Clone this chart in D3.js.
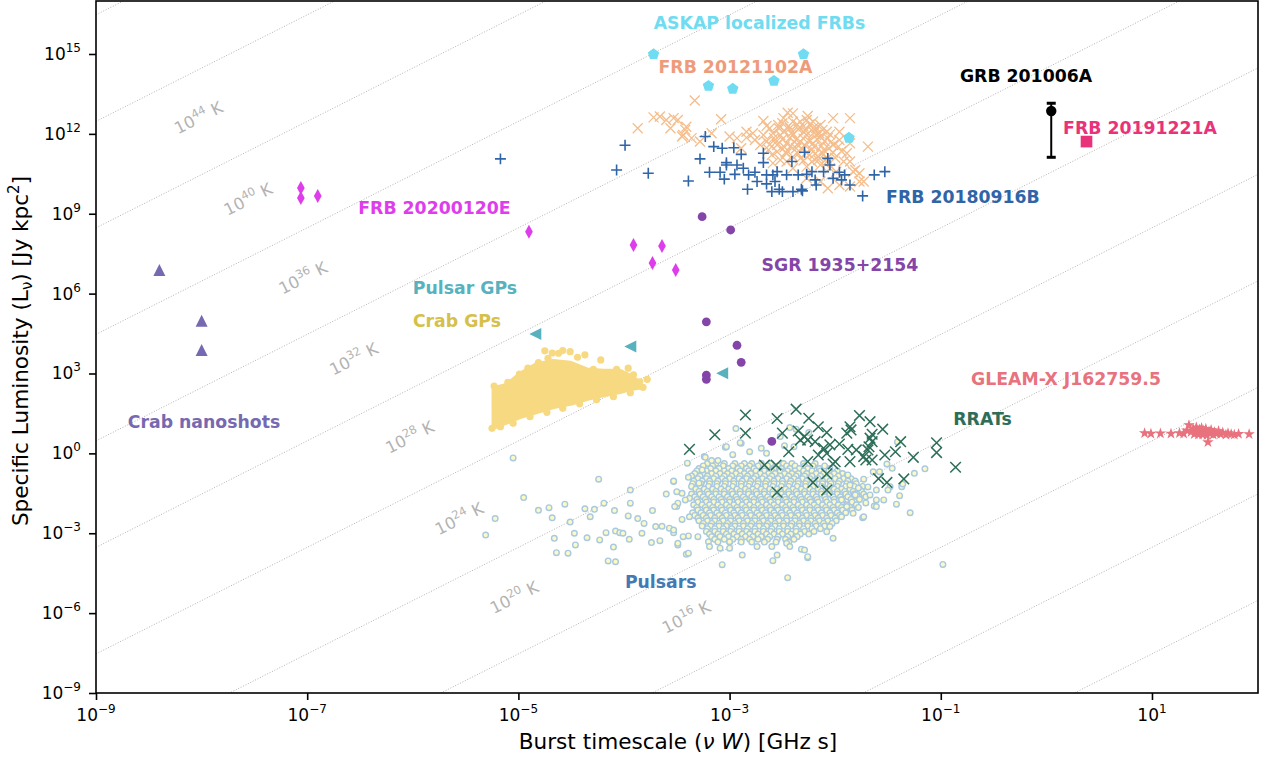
<!DOCTYPE html>
<html>
<head>
<meta charset="utf-8">
<script src="https://cdn.jsdelivr.net/npm/d3@7"></script>
<style>
  body { margin: 0; background: #fff; }
  text { font-family: "DejaVu Sans", sans-serif; }
</style>
</head>
<body>
<svg id="chart" width="1261" height="759"></svg>
<script>
// All source values are log10(burst timescale nu*W [GHz s]), log10(L_nu [Jy kpc^2]).

const xTickExps = [-9, -7, -5, -3, -1, 1];
const yTickExps = [15, 12, 9, 6, 3, 0, -3, -6, -9];
const tempLineExps = [52, 48, 44, 40, 36, 32, 28, 24, 20, 16, 12, 8, 4];
// brightness-temperature labels: [log10 T, log10 nu*W where the label sits]
const tempLabels = [[44, -8.03], [40, -7.56], [36, -7.04], [32, -6.56], [28, -6.03], [24, -5.56], [20, -5.04], [16, -3.41]];

// Pulsars: dense core rows [log L, [log nuW ...]] plus scattered outliers
const pulsarRows = [
  [-0.38, [-3.21,-3.13,-3.05,-2.95,-2.86,-2.79,-2.70,-2.61,-2.49,-2.41,-2.30,-2.19]],
  [-0.47, [-3.25,-3.16,-3.06,-2.97,-2.89,-2.81,-2.73,-2.64,-2.54,-2.46,-2.38,-2.29,-2.21,-2.10]],
  [-0.57, [-3.29,-3.18,-3.10,-3.01,-2.92,-2.84,-2.77,-2.67,-2.58,-2.51,-2.43,-2.34,-2.26,-2.15,-2.05]],
  [-0.66, [-3.31,-3.22,-3.13,-3.05,-2.98,-2.90,-2.82,-2.75,-2.67,-2.60,-2.52,-2.45,-2.38,-2.30,-2.22,-2.14,-2.06,-1.98]],
  [-0.76, [-3.33,-3.25,-3.17,-3.09,-3.02,-2.94,-2.86,-2.80,-2.71,-2.63,-2.57,-2.48,-2.41,-2.35,-2.27,-2.18,-2.11,-2.01,-1.93]],
  [-0.85, [-3.36,-3.28,-3.21,-3.13,-3.05,-2.98,-2.90,-2.83,-2.75,-2.67,-2.60,-2.52,-2.44,-2.37,-2.29,-2.22,-2.14,-2.05,-1.97,-1.89]],
  [-0.95, [-3.30,-3.22,-3.15,-3.07,-3.00,-2.91,-2.84,-2.77,-2.69,-2.62,-2.54,-2.46,-2.39,-2.31,-2.24,-2.16,-2.08,-2.00,-1.92,-1.85]],
  [-1.04, [-3.34,-3.26,-3.19,-3.11,-3.04,-2.96,-2.88,-2.80,-2.73,-2.65,-2.58,-2.50,-2.42,-2.35,-2.27,-2.20,-2.12,-2.05,-1.96,-1.88,-1.81]],
  [-1.14, [-3.35,-3.27,-3.19,-3.12,-3.04,-2.96,-2.89,-2.81,-2.73,-2.66,-2.58,-2.50,-2.43,-2.35,-2.28,-2.20,-2.12,-2.04,-1.97,-1.89,-1.80]],
  [-1.24, [-3.36,-3.28,-3.20,-3.12,-3.05,-2.97,-2.89,-2.82,-2.74,-2.66,-2.59,-2.51,-2.44,-2.36,-2.28,-2.21,-2.13,-2.05,-1.98,-1.90,-1.82,-1.74]],
  [-1.34, [-3.32,-3.24,-3.16,-3.08,-3.01,-2.93,-2.85,-2.78,-2.70,-2.62,-2.55,-2.47,-2.40,-2.32,-2.24,-2.16,-2.09,-2.01,-1.94,-1.86,-1.77]],
  [-1.43, [-3.29,-3.21,-3.13,-3.05,-2.98,-2.90,-2.82,-2.75,-2.67,-2.59,-2.52,-2.44,-2.37,-2.29,-2.21,-2.13,-2.06,-1.98,-1.91,-1.83,-1.75]],
  [-1.53, [-3.36,-3.28,-3.20,-3.13,-3.05,-2.97,-2.90,-2.82,-2.74,-2.67,-2.59,-2.51,-2.44,-2.36,-2.29,-2.21,-2.13,-2.05,-1.98,-1.90,-1.82,-1.73]],
  [-1.63, [-3.33,-3.25,-3.17,-3.10,-3.02,-2.94,-2.87,-2.79,-2.71,-2.64,-2.56,-2.48,-2.41,-2.33,-2.26,-2.18,-2.10,-2.02,-1.95,-1.88,-1.79,-1.71]],
  [-1.73, [-3.31,-3.23,-3.15,-3.08,-3.00,-2.93,-2.85,-2.77,-2.70,-2.62,-2.54,-2.47,-2.39,-2.32,-2.24,-2.17,-2.09,-2.01,-1.94,-1.85,-1.77]],
  [-1.83, [-3.30,-3.22,-3.15,-3.07,-3.00,-2.92,-2.84,-2.77,-2.69,-2.61,-2.54,-2.46,-2.39,-2.31,-2.23,-2.16,-2.08,-2.01,-1.93,-1.84]],
  [-1.93, [-3.34,-3.26,-3.19,-3.11,-3.03,-2.96,-2.88,-2.81,-2.73,-2.65,-2.58,-2.50,-2.43,-2.35,-2.27,-2.20,-2.12,-2.05,-1.97,-1.89,-1.80]],
  [-2.03, [-3.31,-3.23,-3.16,-3.08,-3.00,-2.93,-2.85,-2.77,-2.70,-2.62,-2.55,-2.47,-2.40,-2.32,-2.24,-2.17,-2.09,-2.02,-1.94,-1.86,-1.78]],
  [-2.13, [-3.30,-3.22,-3.15,-3.07,-2.99,-2.92,-2.84,-2.77,-2.69,-2.61,-2.54,-2.46,-2.39,-2.31,-2.24,-2.16,-2.08,-2.01,-1.93,-1.84]],
  [-2.23, [-3.35,-3.27,-3.19,-3.12,-3.04,-2.96,-2.89,-2.81,-2.74,-2.66,-2.58,-2.51,-2.43,-2.36,-2.28,-2.20,-2.13,-2.05,-1.98,-1.90]],
  [-2.33, [-3.33,-3.25,-3.18,-3.10,-3.03,-2.95,-2.88,-2.80,-2.72,-2.65,-2.57,-2.50,-2.42,-2.35,-2.27,-2.19,-2.12,-2.04,-1.96]],
  [-2.43, [-3.30,-3.22,-3.14,-3.07,-2.99,-2.92,-2.84,-2.76,-2.69,-2.61,-2.54,-2.46,-2.38,-2.31,-2.23,-2.16,-2.08,-2.00]],
  [-2.53, [-3.29,-3.21,-3.14,-3.06,-2.99,-2.91,-2.83,-2.76,-2.68,-2.61,-2.53,-2.46,-2.38,-2.30,-2.23,-2.15,-2.07,-1.99]],
  [-2.63, [-3.25,-3.17,-3.10,-3.02,-2.95,-2.87,-2.79,-2.72,-2.64,-2.57,-2.49,-2.41,-2.34,-2.26,-2.19,-2.11,-2.03]],
  [-2.73, [-3.26,-3.18,-3.10,-3.03,-2.95,-2.87,-2.80,-2.72,-2.65,-2.57,-2.49,-2.42,-2.34,-2.26,-2.18,-2.10]],
  [-2.83, [-3.21,-3.14,-3.06,-2.98,-2.91,-2.83,-2.76,-2.68,-2.60,-2.53,-2.45,-2.37,-2.30,-2.22,-2.14]],
  [-2.93, [-3.22,-3.14,-3.06,-2.99,-2.91,-2.84,-2.76,-2.68,-2.61,-2.53,-2.45,-2.37,-2.29,-2.20]],
  [-3.03, [-3.19,-3.11,-3.03,-2.96,-2.88,-2.81,-2.73,-2.65,-2.58,-2.50,-2.42,-2.33,-2.25]],
  [-3.13, [-3.17,-3.09,-3.01,-2.93,-2.85,-2.78,-2.70,-2.62,-2.54,-2.45,-2.36]],
  [-3.23, [-3.14,-3.05,-2.97,-2.89,-2.81,-2.73,-2.64,-2.55,-2.47,-2.39]],
  [-3.33, [-3.11,-3.00,-2.89,-2.79,-2.67,-2.56,-2.44]]
];
const pulsarsSparse = [
  [-5.31,-3.07],[-5.22,-2.45],[-5.05,-0.17],[-4.95,-1.66],[-4.81,-2.14],[-4.71,-2.04],[-4.68,-2.42],[-4.64,-3.73],
  [-4.66,-3.19],[-4.56,-1.91],[-4.53,-3.75],[-4.51,-2.58],[-4.47,-3.00],[-4.46,-3.44],[-4.37,-2.08],[-4.35,-3.17],
  [-4.32,-2.38],[-4.28,-2.10],[-4.24,-0.97],[-4.23,-3.25],[-4.19,-1.87],[-4.17,-2.98],[-4.15,-4.04],[-4.10,-3.52],
  [-4.08,-4.07],[-4.09,-2.15],[-4.08,-2.92],[-4.04,-2.98],[-4.01,-3.00],[-3.96,-2.35],[-3.94,-1.38],[-3.94,-1.87],
  [-3.95,-3.23],[-3.87,-2.45],[-3.83,-3.00],[-3.81,-2.63],[-3.74,-3.35],[-3.73,-2.15],[-3.70,-2.75],[-3.66,-3.28],
  [-3.64,-2.74],[-3.60,-1.53],[-3.57,-2.81],[-3.53,-1.06],[-3.53,-2.98],[-3.50,-2.00],[-3.49,-3.44],[-3.45,-2.48],
  [-3.45,-1.50],[-3.41,-3.79],[-3.40,-0.37],[-3.39,-3.10],[-3.38,-1.69],[-3.29,-1.12],[-3.26,-0.62],[-3.24,-0.12],
  [-3.20,-3.32],[-3.17,-0.27],[-3.11,-0.27],[-3.07,-4.18],[-3.04,0.23],[-3.00,-3.56],[-2.97,-0.05],[-2.94,0.93],
  [-2.89,0.38],[-2.88,-3.82],[-2.59,-4.03],[-2.45,-4.67],[-2.60,-3.50],[-2.46,-3.38],[-2.32,-3.60],[-2.26,-3.92],
  [-2.02,-3.19],[-1.74,-2.42],[-1.63,-1.98],[-1.42,-1.91],[-1.29,-2.23],[-1.54,-1.75],[-1.41,0.43],[-1.25,-0.75],
  [-1.15,-0.58],[-0.98,-4.17],[-1.73,-0.97],[-1.61,-1.38],[-1.39,-1.59],[-1.48,-1.25],[-1.58,-0.69],[-1.51,-0.40],
  [-1.73,-2.38],[-1.61,-2.00],[-1.37,-1.25],[-2.90,0.40],[-2.81,0.06],[-2.70,0.19],[-2.65,0.00],[-2.48,0.29],
  [-2.39,0.25],[-2.43,0.97],[-2.37,0.91],[-2.25,0.78],[-2.52,0.63],[-3.03,0.25],[-3.23,-0.15],[-3.53,-1.04],
  [-3.50,-1.44],[-3.39,-0.90],[-3.49,-1.87],[-3.52,-2.00],[-3.42,-1.75],[-3.38,-2.38],[-3.53,-2.88],[-3.44,-3.13],
  [-3.39,-3.75],[-3.49,-3.38],[-3.30,-3.13],[-3.19,-3.50],[-3.09,-3.56],[-3.00,-3.32],[-2.74,-3.50],[-2.55,-3.82],
  [-2.43,-3.50],[-2.29,-3.63],[-2.26,-3.88],[-1.61,-1.75],[-1.67,-1.56],[-1.50,-1.38],[-1.36,-1.15],[-1.46,-0.56],
  [-1.64,-0.69],[-1.94,-1.75],[-1.89,-2.00],[-1.94,-2.38],[-1.83,-2.25],[-2.05,-2.75],[-2.08,-2.94],[-1.81,-1.56],
  [-1.86,-1.19],[-1.88,-0.81],[-1.78,-1.30],[-1.71,-1.86],[-1.69,-1.26]
];

// Crab giant pulses: envelope of the dense cloud [log nuW, low log L, high log L] and its edge pulses
const crabGPEnvelope = [
  [-5.22,1.05,2.40],[-5.10,1.24,2.52],[-4.99,1.42,2.90],[-4.83,1.61,3.28],[-4.67,1.80,3.41],[-4.51,1.92,3.34],
  [-4.35,2.11,3.09],[-4.20,2.24,3.04],[-4.04,2.36,3.04],[-3.94,2.48,2.85],[-3.86,2.52,2.62]
];
const crabGPEdge = [
  [-4.75,3.85],[-4.62,3.76],[-4.58,3.86],[-4.51,3.82],[-4.44,3.61],[-4.22,3.51],[-3.78,2.78],[-5.23,2.53],
  [-5.10,2.67],[-4.99,2.98],[-4.91,3.20],[-4.81,3.41],[-4.72,3.57],[-3.96,3.20],[-3.91,2.95],[-3.85,2.69],
  [-4.07,3.16],[-4.29,3.16],[-5.25,0.94],[-5.17,1.00],[-5.05,1.13],[-4.89,1.38],[-4.73,1.54],[-4.58,1.69],
  [-4.42,1.86],[-4.26,2.01],[-4.10,2.13],[-3.94,2.28],[-3.82,2.48],[-4.68,3.77],[-4.37,3.70]
];

const rrats = [
  [-3.38,0.15],[-3.14,0.70],[-2.85,1.44],[-2.85,0.76],[-2.55,1.31],[-2.37,1.66],[-2.25,1.32],[-2.16,1.00],
  [-2.50,0.76],[-2.35,0.84],[-2.29,0.63],[-2.08,0.78],[-2.19,0.44],[-2.11,0.19],[-2.26,0.50],[-2.08,0.00],
  [-1.77,1.42],[-1.67,1.19],[-1.55,0.91],[-1.65,0.72],[-1.86,1.00],[-1.89,0.76],[-1.65,0.44],[-1.69,0.13],
  [-1.88,0.15],[-1.86,-0.31],[-1.65,-0.25],[-1.53,-0.06],[-1.43,0.06],[-1.38,0.44],[-1.26,-0.15],[-1.04,0.40],
  [-1.04,0.03],[-0.86,-0.52],[-1.35,-0.96],[-1.51,-1.09],[-1.59,-0.95],[-2.00,-0.31],[-2.02,-0.40],[-2.08,-0.77],
  [-2.08,-1.38],[-2.21,-1.09],[-2.26,-0.31],[-2.44,0.06],[-2.56,-0.44],[-2.67,-0.44],[-2.55,-1.46],[-1.80,0.13],
  [-1.73,-0.12],[-1.85,0.88],[-1.67,0.57],[-1.68,0.25],[-1.71,-0.25],[-1.96,0.35],[-2.16,-0.06],[-2.33,0.50],
  [-2.05,0.32]
];

const pulsarGPs = [[-4.84,4.48],[-3.94,4.01],[-3.07,3.01]];
const crabNanoshots = [[-8.40,6.89],[-8.00,4.98],[-8.00,3.88]];
const sgr1935 = [[-3.26,8.89],[-2.99,8.39],[-3.22,4.94],[-2.93,4.06],[-2.89,3.42],[-3.22,2.94],[-3.22,2.78],[-2.60,0.45]];
const frb20200120E = [[-7.06,9.97],[-7.06,9.59],[-6.90,9.67],[-4.90,8.32],[-3.91,7.83],[-3.64,7.79],[-3.73,7.15],[-3.51,6.89]];

const frb20121102A = [
  [-3.87,12.21],[-3.72,12.62],[-3.66,12.65],[-3.60,12.52],[-3.53,12.59],[-3.49,12.52],[-3.41,12.27],[-3.44,11.96],
  [-3.33,13.25],[-3.08,12.55],[-3.00,11.90],[-3.36,11.84],[-3.56,12.21],[-3.42,12.15],[-3.45,11.90],[-3.28,11.71],
  [-3.17,12.02],[-2.84,11.86],[-2.76,11.77],[-2.89,11.46],[-2.71,11.58],[-2.65,11.71],[-2.59,12.02],[-2.49,12.59],
  [-2.40,12.77],[-2.33,12.46],[-2.27,12.52],[-2.21,12.46],[-2.14,12.33],[-2.02,12.59],[-1.96,12.08],[-1.86,11.65],
  [-1.69,11.52],[-1.97,11.52],[-1.89,11.27],[-1.86,10.96],[-1.77,10.21],[-1.73,10.21],[-2.07,9.96],[-2.14,10.21],
  [-1.86,10.02],[-2.27,10.33],[-2.40,10.71],[-2.52,11.02],[-2.59,10.90],[-2.46,11.27],[-2.55,11.58],[-2.68,11.96],
  [-2.84,12.08],[-2.93,11.84],[-2.78,12.02],[-2.02,11.58],[-1.96,11.77],[-2.08,12.08],[-2.21,12.21],[-2.30,12.08],
  [-2.43,12.21],[-2.52,11.96],[-2.46,11.65],[-2.33,11.71],[-2.21,11.65],[-2.11,11.40],[-2.24,11.21],[-2.33,11.08],
  [-2.14,10.83],[-2.27,10.77],[-2.05,10.71],[-1.99,10.58],[-1.83,10.58],[-1.92,10.96],[-1.81,10.64],[-1.96,10.08],
  [-1.77,10.52],[-2.37,11.46],[-2.55,11.33],[-2.63,11.40],[-2.60,11.21],[-2.40,11.96],[-2.27,11.96],[-2.14,11.90],
  [-2.40,12.46],[-2.54,12.33],[-2.62,12.21],[-2.07,11.84],[-2.18,11.96],[-2.32,11.46],[-2.22,11.40],[-2.16,11.14],
  [-2.08,11.08],[-2.46,10.96],[-2.40,11.14],[-1.86,12.59],[-2.65,12.30],[-2.45,12.79],[-2.26,12.67],[-2.68,12.48],
  [-2.50,12.40],[-2.44,12.30],[-2.36,12.35],[-2.30,12.28],[-2.24,12.36],[-2.18,12.22],[-2.12,12.15],[-2.48,12.10],
  [-2.41,12.05],[-2.35,12.18],[-2.28,12.12],[-2.20,12.05],[-2.15,12.02],[-2.05,11.98],[-2.50,11.80],[-2.43,11.85],
  [-2.37,11.78],[-2.30,11.82],[-2.25,11.75],[-2.17,11.80],[-2.10,11.72],[-2.04,11.70],[-2.56,11.70],[-2.48,11.50],
  [-2.42,11.55],[-2.36,11.60],[-2.28,11.55],[-2.20,11.52],[-2.13,11.55],[-2.06,11.45],[-2.47,11.30],[-2.35,11.25],
  [-2.27,11.30],[-2.19,11.25],[-2.12,11.28],[-2.02,11.30],[-2.30,11.00],[-2.22,10.95],[-2.16,11.02],[-2.08,10.95],
  [-2.00,11.10],[-1.94,11.35],[-2.53,12.20],[-2.58,11.85],[-2.62,11.60]
];

const frb20180916B = [
  [-5.17,11.06],[-3.99,11.57],[-4.07,10.64],[-3.77,10.52],[-3.39,10.23],[-3.23,11.90],[-1.74,9.67],[-3.28,11.06],
  [-3.15,11.52],[-3.07,11.46],[-2.96,11.48],[-2.89,11.23],[-3.19,10.56],[-3.09,10.56],[-3.03,10.83],[-3.05,10.30],
  [-2.93,10.83],[-2.95,10.48],[-2.87,10.71],[-2.82,10.46],[-2.83,9.92],[-2.76,10.56],[-2.74,10.21],[-2.68,11.27],
  [-2.68,10.92],[-2.65,10.46],[-2.65,10.12],[-2.59,10.46],[-2.55,10.58],[-2.57,10.21],[-2.53,9.92],[-2.50,9.83],
  [-2.46,10.46],[-2.41,10.96],[-2.35,10.46],[-2.32,9.92],[-2.29,11.31],[-2.27,10.48],[-2.22,10.58],[-2.19,10.27],
  [-2.18,10.08],[-2.11,10.58],[-2.07,11.08],[-2.05,10.83],[-2.02,10.33],[-1.96,10.56],[-1.94,10.27],[-1.91,10.46],
  [-1.86,10.08],[-1.63,10.46],[-1.53,10.58],[-2.60,9.83],[-2.40,9.83],[-2.31,9.86],[-3.03,10.92]
];

const askapFRBs = [[-3.72,14.99],[-2.30,14.99],[-3.20,13.80],[-2.97,13.69],[-2.58,13.99],[-1.87,11.85]];

const gleamx = [
  [0.93,0.76],[0.99,0.74],[1.08,0.75],[1.18,0.74],[1.26,0.76],[1.30,0.74],[1.33,0.86],[1.35,1.06],[1.37,0.80],
  [1.39,0.92],[1.40,0.72],[1.42,0.98],[1.43,0.84],[1.44,0.70],[1.45,0.90],[1.46,0.78],[1.47,0.95],[1.48,0.70],
  [1.49,0.86],[1.50,0.76],[1.51,0.92],[1.52,0.68],[1.53,0.42],[1.54,0.82],[1.55,0.74],[1.56,0.88],[1.58,0.70],
  [1.59,0.80],[1.61,0.74],[1.63,0.84],[1.65,0.72],[1.67,0.78],[1.70,0.70],[1.72,0.76],[1.75,0.72],[1.78,0.70],
  [1.82,0.73],[1.92,0.72]
];

// GRB 201006A: [log nuW, log L, log L lower, log L upper]
const grb201006A = [[0.046, 12.86, 11.12, 13.15]];
const frb20191221A = [[0.38, 11.71]];

// Source name annotations: [text, log nuW (centre), log L (centre), colour]
const annotations = [
  ["ASKAP localized FRBs", -2.717, 16.165, "#6fdcf1"],
  ["FRB 20121102A", -2.944, 14.524, "#ee9b7b"],
  ["GRB 201006A", -0.193, 14.175, "#000000"],
  ["FRB 20191221A", 0.887, 12.233, "#e8337a"],
  ["FRB 20180916B", -0.790, 9.641, "#2f65a7"],
  ["FRB 20200120E", -5.795, 9.217, "#de3deb"],
  ["SGR 1935+2154", -1.955, 7.076, "#8445a8"],
  ["Pulsar GPs", -5.506, 6.212, "#57b2be"],
  ["Crab GPs", -5.582, 4.973, "#d6c04a"],
  ["Crab nanoshots", -7.977, 1.191, "#7669b1"],
  ["GLEAM-X J162759.5", 0.186, 2.794, "#e8727d"],
  ["RRATs", -0.605, 1.318, "#2c6e58"],
  ["Pulsars", -3.652, -4.819, "#4479b4"]
];

// ---------------------------------------------------------------------------
const TB_CONST = 17.53;      // log10 T_B = log10 L - 2 log10(nu W) + TB_CONST
const LABEL_LIFT = 2.2;      // decades above each T_B line where its label sits

const svg = d3.select("#chart");
const L = 96, R = 1258, T = 1, B = 693;

const x = d3.scaleLog().domain([1e-9, Math.pow(10, 2.004)]).range([L, R]);
const y = d3.scaleLog().domain([1e-9, Math.pow(10, 16.99)]).range([B, T]);
const px = d => x(Math.pow(10, d));
const py = d => y(Math.pow(10, d));

svg.append("rect").attr("width", 1261).attr("height", 759).attr("fill", "#fff");

svg.append("defs").append("clipPath").attr("id", "plotClip")
  .append("rect").attr("x", L).attr("y", T).attr("width", R - L).attr("height", B - T);

const plot = svg.append("g").attr("clip-path", "url(#plotClip)");

// brightness temperature lines
const lxMin = -9, lxMax = 2.004;
const tbLine = d3.line().x(d => px(d[0])).y(d => py(d[1]));
plot.append("g").selectAll("path").data(tempLineExps).join("path")
  .attr("d", t => tbLine([[lxMin, t - TB_CONST + 2 * lxMin], [lxMax, t - TB_CONST + 2 * lxMax]]))
  .attr("fill", "none").attr("stroke", "#b3b3b3").attr("stroke-width", 1)
  .attr("stroke-dasharray", "1,1.7");

const angle = Math.atan2(py(2) - py(0), px(1) - px(0)) * 180 / Math.PI;
const tl = plot.append("g").selectAll("text").data(tempLabels).join("text")
  .attr("transform", d => `translate(${px(d[1])},${py(d[0] + LABEL_LIFT - TB_CONST + 2 * d[1])}) rotate(${angle})`)
  .attr("text-anchor", "middle").attr("dy", "0.35em")
  .attr("font-size", 16.5).attr("fill", "#b3b3b3");
tl.append("tspan").text("10");
tl.append("tspan").attr("dy", -7).attr("font-size", 11.5).text(d => d[0]);
tl.append("tspan").attr("dy", 7).text(" K");

// marker shapes (size = half-extent squared)
const shapes = {
  plus: { draw(c, s) { const r = Math.sqrt(s); c.moveTo(-r, 0); c.lineTo(r, 0); c.moveTo(0, -r); c.lineTo(0, r); } },
  cross: { draw(c, s) { const r = Math.sqrt(s); c.moveTo(-r, -r); c.lineTo(r, r); c.moveTo(-r, r); c.lineTo(r, -r); } },
  pentagon: { draw(c, s) { const r = Math.sqrt(s);
    for (let i = 0; i < 5; i++) { const a = -Math.PI / 2 + i * 2 * Math.PI / 5;
      const vx = r * Math.cos(a), vy = r * Math.sin(a); if (i) c.lineTo(vx, vy); else c.moveTo(vx, vy); }
    c.closePath(); } },
  thinDiamond: { draw(c, s) { const r = Math.sqrt(s), w = r * 0.55;
    c.moveTo(0, -r); c.lineTo(w, 0); c.lineTo(0, r); c.lineTo(-w, 0); c.closePath(); } },
  triUp: { draw(c, s) { const r = Math.sqrt(s); c.moveTo(0, -r); c.lineTo(r, r); c.lineTo(-r, r); c.closePath(); } },
  triLeft: { draw(c, s) { const r = Math.sqrt(s); c.moveTo(-r, 0); c.lineTo(r, -r); c.lineTo(r, r); c.closePath(); } },
  square: { draw(c, s) { const r = Math.sqrt(s); c.rect(-r, -r, 2 * r, 2 * r); } }
};

function markers(data, type, size, style) {
  const path = d3.symbol(type, size)();
  plot.append("g").selectAll("path").data(data).join("path")
    .attr("transform", d => `translate(${px(d[0])},${py(d[1])})`)
    .attr("d", path)
    .attr("fill", style.fill || "none")
    .attr("stroke", style.stroke || "none")
    .attr("stroke-width", style.sw || 0)
    .attr("stroke-linecap", "butt");
}

function dots(data, r, style) {
  plot.append("g").selectAll("circle").data(data).join("circle")
    .attr("cx", d => px(d[0])).attr("cy", d => py(d[1])).attr("r", r)
    .attr("fill", style.fill || "none")
    .attr("stroke", style.stroke || "none")
    .attr("stroke-width", style.sw || 0);
}

// pulsars
const pulsars = pulsarRows.flatMap(([ly, xs]) => xs.map(lx => [lx, ly])).concat(pulsarsSparse);
dots(pulsars, 2.8, { fill: "#fbf9c4", stroke: "#a9c9e0", sw: 1.4 });

// Crab giant pulses
const crabColor = "#f7d982";
plot.append("path").datum(crabGPEnvelope)
  .attr("d", d3.area().x(d => px(d[0])).y0(d => py(d[1])).y1(d => py(d[2])).curve(d3.curveLinear))
  .attr("fill", crabColor).attr("stroke", crabColor).attr("stroke-width", 7.2).attr("stroke-linejoin", "round");
dots(crabGPEdge, 3.6, { fill: crabColor });

// RRATs
markers(rrats, shapes.cross, 28, { stroke: "#2c6e58", sw: 1.5 });
// giant pulses from other pulsars
markers(pulsarGPs, shapes.triLeft, 36, { fill: "#57b2be" });
// Crab nanoshots
markers(crabNanoshots, shapes.triUp, 36, { fill: "#7669b1" });
// SGR 1935+2154
dots(sgr1935, 4.4, { fill: "#8445a8" });
// FRB 20200120E
markers(frb20200120E, shapes.thinDiamond, 49, { fill: "#de3deb" });
// FRB 20121102A
markers(frb20121102A, shapes.cross, 25, { stroke: "#f5bd8b", sw: 1.3 });
// FRB 20180916B
markers(frb20180916B, shapes.plus, 30, { stroke: "#2f65a7", sw: 1.6 });
// ASKAP localized FRBs
markers(askapFRBs, shapes.pentagon, 36, { fill: "#6fdcf1" });
// GLEAM-X J162759.5
markers(gleamx, d3.symbolStar, 36 / 0.8908, { fill: "#e8727d" });

// GRB 201006A with error bar
const grb = plot.append("g");
grb.selectAll("line.err").data(grb201006A).join("line")
  .attr("x1", d => px(d[0])).attr("x2", d => px(d[0]))
  .attr("y1", d => py(d[2])).attr("y2", d => py(d[3]))
  .attr("stroke", "#000").attr("stroke-width", 2);
grb.selectAll("line.capLo").data(grb201006A).join("line")
  .attr("x1", d => px(d[0]) - 4.5).attr("x2", d => px(d[0]) + 4.5)
  .attr("y1", d => py(d[2])).attr("y2", d => py(d[2]))
  .attr("stroke", "#000").attr("stroke-width", 3);
grb.selectAll("line.capHi").data(grb201006A).join("line")
  .attr("x1", d => px(d[0]) - 4.5).attr("x2", d => px(d[0]) + 4.5)
  .attr("y1", d => py(d[3])).attr("y2", d => py(d[3]))
  .attr("stroke", "#000").attr("stroke-width", 3);
dots(grb201006A, 5.2, { fill: "#000" });

// FRB 20191221A
markers(frb20191221A, shapes.square, 34, { fill: "#e8337a" });

// source names
plot.append("g").selectAll("text").data(annotations).join("text")
  .attr("x", d => px(d[1])).attr("y", d => py(d[2])).attr("dy", "0.36em")
  .attr("text-anchor", "middle").attr("font-weight", "bold").attr("font-size", 17.3)
  .attr("fill", d => d[3]).text(d => d[0]);

// frame
svg.append("rect").attr("x", L).attr("y", T).attr("width", R - L).attr("height", B - T)
  .attr("fill", "none").attr("stroke", "#000").attr("stroke-width", 1.6);

// axes
const xAxis = d3.axisBottom(x).tickValues(xTickExps.map(e => Math.pow(10, e)))
  .tickFormat("").tickSize(7).tickSizeOuter(0);
const gx = svg.append("g").attr("transform", `translate(0,${B})`).call(xAxis);
gx.select(".domain").remove();
gx.selectAll(".tick line").attr("stroke", "#000").attr("stroke-width", 1.6);

const yAxis = d3.axisLeft(y).tickValues(yTickExps.map(e => Math.pow(10, e)))
  .tickFormat("").tickSize(7).tickSizeOuter(0);
const gy = svg.append("g").attr("transform", `translate(${L},0)`).call(yAxis);
gy.select(".domain").remove();
gy.selectAll(".tick line").attr("stroke", "#000").attr("stroke-width", 1.6);

const expText = e => (e < 0 ? "\u2212" + (-e) : String(e));

const xl = svg.append("g").selectAll("text").data(xTickExps).join("text")
  .attr("x", e => px(e)).attr("y", 721).attr("text-anchor", "middle")
  .attr("font-size", 17).attr("fill", "#000");
xl.append("tspan").text("10");
xl.append("tspan").attr("dy", -8).attr("font-size", 12).text(expText);

const yl = svg.append("g").selectAll("text").data(yTickExps).join("text")
  .attr("x", 81).attr("y", e => py(e) + 6).attr("text-anchor", "end")
  .attr("font-size", 17).attr("fill", "#000");
yl.append("tspan").text("10");
yl.append("tspan").attr("dy", -8).attr("font-size", 12).text(expText);

// axis titles
const xt = svg.append("text").attr("x", 678).attr("y", 749)
  .attr("text-anchor", "middle").attr("font-size", 21.6).attr("fill", "#000");
xt.append("tspan").text("Burst timescale (");
xt.append("tspan").attr("font-style", "italic").text("\u03bd W");
xt.append("tspan").text(") [GHz s]");

const yt = svg.append("text").attr("transform", "translate(28,351) rotate(-90)")
  .attr("text-anchor", "middle").attr("font-size", 21.6).attr("fill", "#000");
yt.append("tspan").text("Specific Luminosity (L");
yt.append("tspan").attr("dy", 4).attr("font-size", 15).text("\u03bd");
yt.append("tspan").attr("dy", -4).text(") [Jy kpc");
yt.append("tspan").attr("dy", -9).attr("font-size", 15).text("2");
yt.append("tspan").attr("dy", 9).text("]");
</script>
</body>
</html>
